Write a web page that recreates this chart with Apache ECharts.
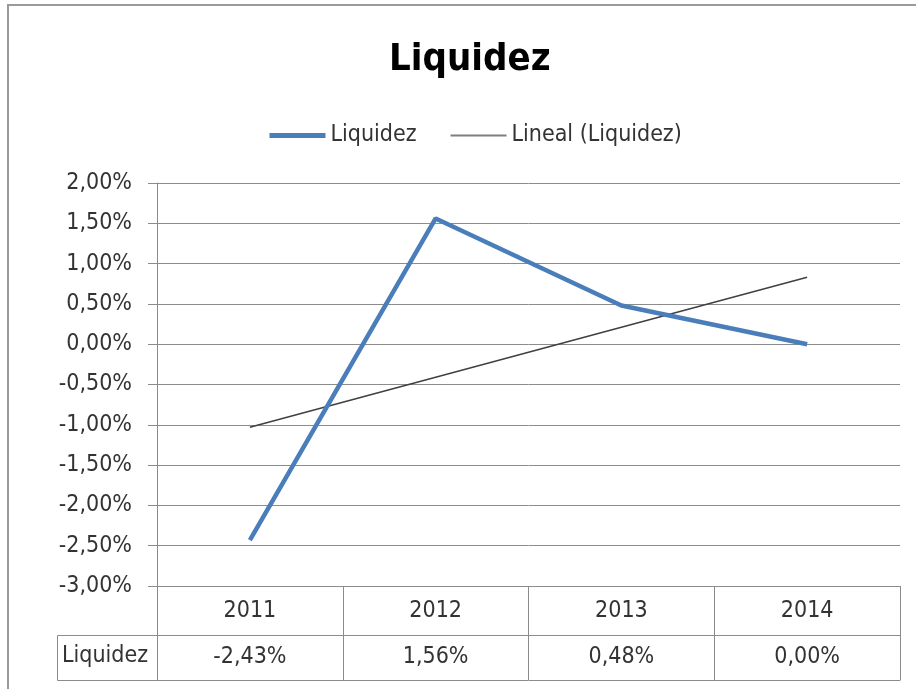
<!DOCTYPE html>
<html>
  <head>
    <meta charset="utf-8">
    <title>Liquidez</title>
    <script src="https://cdn.jsdelivr.net/npm/echarts@6/dist/echarts.min.js"></script>
    <style>
      html, body { margin: 0; padding: 0; background: #fff; }
    </style>
  </head>
  <body>
    <div id="main" style="width:916px;height:689px;"></div>
    <script>
// datos
var anios = ['2011', '2012', '2013', '2014'];
var liquidez = [-2.43, 1.56, 0.48, 0.00];
// linea de tendencia (lineal)
var tendencia = [-1.03, -0.41, 0.21, 0.83];
var yTicks = { min: -3, max: 2, paso: 0.5 };

var fuente = "'Liberation Sans Narrow', 'DejaVu Sans Condensed', 'Liberation Sans', sans-serif";
var gris = '#8c8c8c';
var texto = '#333333';

function pct(v) {
  return v.toFixed(2).replace('.', ',') + '%';
}

var myChart = echarts.init(document.getElementById('main'));

myChart.setOption({
  animation: false,
  title: {
    text: 'Liquidez',
    left: 384,
    top: 36,
    textStyle: { fontFamily: fuente, fontSize: 38, fontWeight: 'bold', color: '#000' }
  },
  legend: {
    top: 119,
    left: 262,
    itemWidth: 56,
    itemHeight: 14,
    itemGap: 33,
    itemStyle: { opacity: 0 },
    data: [
      { name: 'Liquidez', lineStyle: { width: 5, color: '#4a7ebb' } },
      { name: 'Lineal (Liquidez)', lineStyle: { width: 2, color: '#7f7f7f' } }
    ],
    textStyle: { fontFamily: fuente, fontSize: 23, color: texto }
  },
  grid: { left: 157, right: 16, top: 183, bottom: 103 },
  xAxis: [
    {
      // fila de anios
      type: 'category',
      data: anios,
      boundaryGap: true,
      axisLine: { onZero: false, lineStyle: { color: gris, width: 1 } },
      axisTick: { show: true, length: 49, inside: false, lineStyle: { color: gris } },
      axisLabel: { margin: 14, fontFamily: fuente, fontSize: 23, color: texto }
    },
    {
      // fila de valores
      type: 'category',
      data: anios,
      position: 'bottom',
      offset: 49,
      boundaryGap: true,
      axisLine: { show: true, onZero: false, lineStyle: { color: gris, width: 1 } },
      axisTick: { show: true, length: 45, lineStyle: { color: gris } },
      axisLabel: {
        margin: 11, fontFamily: fuente, fontSize: 23, color: texto,
        formatter: function (v, i) { return pct(liquidez[i]); }
      }
    },
    {
      // borde inferior de la tabla
      type: 'category',
      data: anios,
      position: 'bottom',
      offset: 94,
      axisLine: { show: true, onZero: false, lineStyle: { color: gris, width: 1 } },
      axisTick: { show: false },
      axisLabel: { show: false }
    }
  ],
  yAxis: {
    type: 'value',
    min: yTicks.min,
    max: yTicks.max,
    interval: yTicks.paso,
    axisLine: { show: true, lineStyle: { color: gris } },
    axisTick: { show: true, length: 9, lineStyle: { color: gris } },
    splitLine: { lineStyle: { color: gris, width: 1 } },
    axisLabel: {
      margin: 25, fontFamily: fuente, fontSize: 23, color: texto,
      formatter: pct
    }
  },
  series: [
    {
      name: 'Liquidez',
      type: 'line',
      data: liquidez,
      symbol: 'none',
      lineStyle: { color: '#4a7ebb', width: 4.5 },
      itemStyle: { color: '#4a7ebb' },
      z: 3
    },
    {
      name: 'Lineal (Liquidez)',
      type: 'line',
      data: tendencia,
      symbol: 'none',
      lineStyle: { color: '#404040', width: 1.5 },
      itemStyle: { color: '#404040' },
      z: 2
    }
  ],
  graphic: [
    {
      // marco del grafico
      type: 'rect',
      shape: { x: 8, y: 5, width: 930, height: 700 },
      style: { fill: 'none', stroke: '#9a9a9a', lineWidth: 2 },
      silent: true
    },
    {
      // celda de encabezado de la fila
      type: 'rect',
      shape: { x: 57.5, y: 635.5, width: 100, height: 45 },
      style: { fill: 'none', stroke: gris, lineWidth: 1 },
      silent: true
    },
    {
      type: 'text',
      left: 62,
      top: 645,
      style: { text: 'Liquidez', font: '23px ' + fuente, fill: texto }
    }
  ]
});
    </script>
  </body>
</html>
